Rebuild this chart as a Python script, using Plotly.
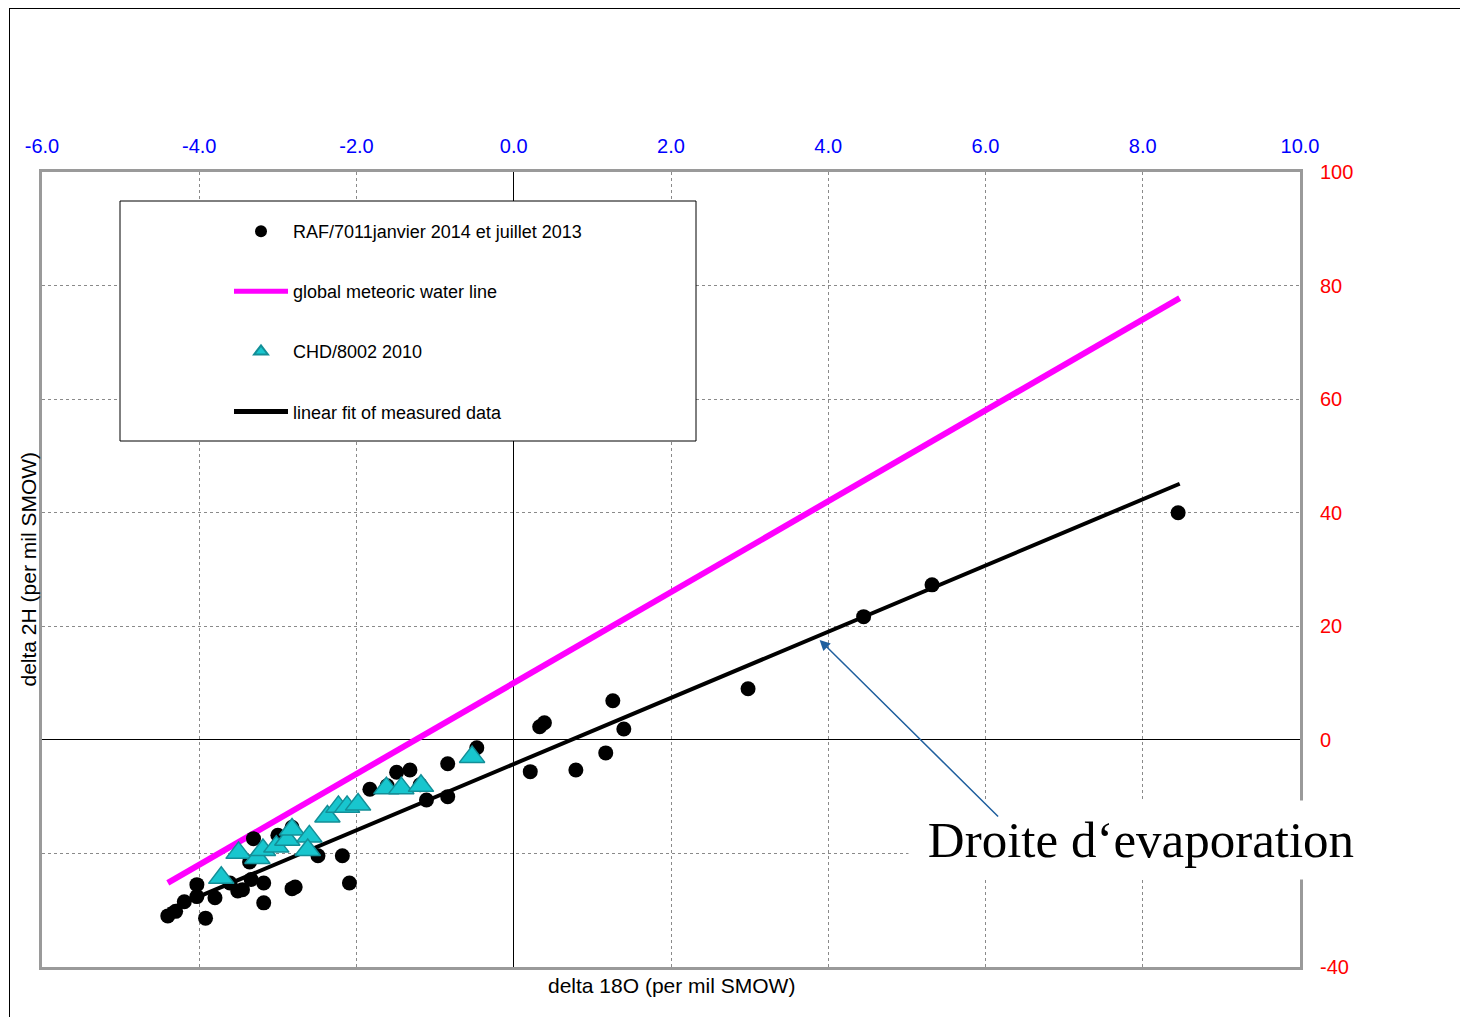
import plotly.graph_objects as go

# ---- data ----
raf_x = [-4.40, -4.30, -4.19, -4.03, -4.03, -3.92, -3.80, -3.61, -3.51, -3.45, -3.34, -3.18, -3.18,
         -3.31, -3.00, -3.36, -2.82, -2.78, -2.82, -2.49, -2.18, -2.09, -1.83, -1.61, -1.49, -1.32,
         -1.19, -1.11, -0.84, -0.84, -0.47, 0.21, 0.33, 0.39, 1.26, 1.40, 1.17, 0.79, 2.98,
         4.45, 5.32, 8.45]
raf_y = [-31.0, -30.2, -28.5, -25.5, -27.6, -31.4, -27.8, -25.2, -26.6, -26.4, -24.6, -25.2, -28.7,
         -17.4, -16.8, -21.5, -26.2, -25.9, -15.4, -20.4, -20.4, -25.2, -8.7, -8.1, -5.7, -5.3,
         -7.9, -10.6, -4.2, -10.0, -1.4, -5.6, 2.3, 3.0, 6.9, 1.9, -2.3, -5.3, 9.0,
         21.7, 27.3, 40.0]

chd_x = [-3.72, -3.50, -3.26, -3.19, -3.02, -2.88, -2.82, -2.60, -2.62, -2.37, -2.23, -2.12,
         -1.98, -1.62, -1.43, -1.18, -0.53]
chd_y = [-24.3, -19.9, -20.8, -19.4, -18.8, -17.6, -15.8, -17.0, -19.4, -13.5, -11.8, -11.8,
         -11.4, -8.5, -8.5, -8.1, -3.0]

line_x = [-4.40, 8.47]
gmwl_y = [-25.2, 77.8]          # global meteoric water line
fit_y = [-29.9, 45.1]           # linear fit of measured data

x_ticks = [-6, -4, -2, 0, 2, 4, 6, 8, 10]
x_ticktext = ["-6.0", "-4.0", "-2.0", "0.0", "2.0", "4.0", "6.0", "8.0", "10.0"]
y_ticks = [-40, -20, 0, 20, 40, 60, 80, 100]
y_ticktext = ["-40", "", "0", "20", "40", "60", "80", "100"]   # -20 hidden behind the label box

names = ["RAF/7011janvier 2014 et juillet 2013", "global meteoric water line",
         "CHD/8002 2010", "linear fit of measured data"]

FONT = "Liberation Sans, Arial, sans-serif"

fig = go.Figure()
fig.add_trace(go.Scatter(x=line_x, y=gmwl_y, mode="lines", name=names[1],
                         line=dict(color="#FF00FF", width=6),
                         legendgroup="g2", legendrank=2))
fig.add_trace(go.Scatter(x=line_x, y=fit_y, mode="lines", name=names[3],
                         line=dict(color="black", width=4),
                         legendgroup="g4", legendrank=4))
fig.add_trace(go.Scatter(x=raf_x, y=raf_y, mode="markers", name=names[0],
                         marker=dict(color="black", size=15, symbol="circle"),
                         legendgroup="g1", legendrank=1))
fig.add_trace(go.Scatter(x=chd_x, y=chd_y, mode="markers", name=names[2],
                         marker=dict(color="#18C6CE", size=22, symbol="triangle-up",
                                     line=dict(color="#138E97", width=1.5)),
                         legendgroup="g3", legendrank=3))

# The page body has an 8px margin: work in page pixels, then subtract it.
OFF = 8
W, H = 1468 - OFF, 1017 - OFF
PL, PT, PR, PB = 42, 172, 1300, 967      # plot area in page pixels
L, T = PL - OFF, PT - OFF
R, B = W - (PR - OFF), H - (PB - OFF)
pw, ph = PR - PL, PB - PT


def px2paper_x(px):
    return (px - PL) / pw


def py2paper_y(py):
    return (PB - py) / ph


fig.update_layout(
    width=W, height=H,
    margin=dict(l=L, r=R, t=T, b=B, pad=0),
    paper_bgcolor="white", plot_bgcolor="white",
    font=dict(family=FONT, color="black"),
    showlegend=True,
    legend=dict(
        x=px2paper_x(229), y=py2paper_y(213), xanchor="left", yanchor="top",
        bgcolor="rgba(0,0,0,0)", borderwidth=0,
        font=dict(size=18, family=FONT, color="black"),
        tracegroupgap=33.7, itemwidth=54, itemsizing="constant",
    ),
    xaxis=dict(
        range=[-6, 10], side="top", tickvals=x_ticks, ticktext=x_ticktext,
        tickfont=dict(color="#0000FF", size=20, family=FONT),
        ticks="", ticklabelstandoff=8,
        showgrid=True, gridcolor="#8a8a8a", griddash="dot", gridwidth=1,
        zeroline=True, zerolinecolor="black", zerolinewidth=1,
        showline=True, mirror=True, linecolor="#9a9a9a", linewidth=3,
    ),
    yaxis=dict(
        range=[-40, 100], side="right", tickvals=y_ticks, ticktext=y_ticktext,
        tickfont=dict(color="#FF0000", size=20, family=FONT),
        ticks="", ticklabelstandoff=13,
        showgrid=True, gridcolor="#8a8a8a", griddash="dot", gridwidth=1,
        zeroline=True, zerolinecolor="black", zerolinewidth=1,
        showline=True, mirror=True, linecolor="#9a9a9a", linewidth=3,
    ),
)

# legend frame
fig.add_shape(type="rect", xref="paper", yref="paper",
              x0=px2paper_x(120), x1=px2paper_x(696),
              y0=py2paper_y(441), y1=py2paper_y(201),
              line=dict(color="black", width=1), fillcolor="white", layer="above")
# page frame lines (top and left)
fig.add_shape(type="line", xref="paper", yref="paper",
              x0=px2paper_x(9), x1=px2paper_x(1468), y0=py2paper_y(8.5), y1=py2paper_y(8.5),
              line=dict(color="black", width=1))
fig.add_shape(type="line", xref="paper", yref="paper",
              x0=px2paper_x(9.5), x1=px2paper_x(9.5), y0=py2paper_y(8.5), y1=py2paper_y(1017),
              line=dict(color="black", width=1))

# axis titles
fig.add_annotation(text="delta 18O (per mil SMOW)", xref="paper", yref="paper",
                   x=0.5, y=py2paper_y(985), xanchor="center", yanchor="middle",
                   showarrow=False, font=dict(size=21, family=FONT, color="black"))
fig.add_annotation(text="delta 2H (per mil SMOW)", xref="paper", yref="paper",
                   x=px2paper_x(28), y=0.5, xanchor="center", yanchor="middle",
                   textangle=-90, showarrow=False,
                   font=dict(size=21, family=FONT, color="black"))

# label box (drawn first so the arrow stays visible above it)
fig.add_annotation(text="Droite d\u2018evaporation", xref="paper", yref="paper",
                   x=px2paper_x(1141), y=py2paper_y(840), xanchor="center", yanchor="middle",
                   showarrow=False, bgcolor="white", width=462, height=76,
                   font=dict(size=51, family="Liberation Serif, Times New Roman, serif",
                             color="black"))
# arrow to the evaporation line
fig.add_annotation(x=3.89, y=17.6, xref="x", yref="y", text="", showarrow=True,
                   ax=180, ay=178, arrowhead=2, arrowsize=1.4, arrowwidth=1.5,
                   arrowcolor="#1F5F9E", standoff=0)

fig.write_html("out.html")
